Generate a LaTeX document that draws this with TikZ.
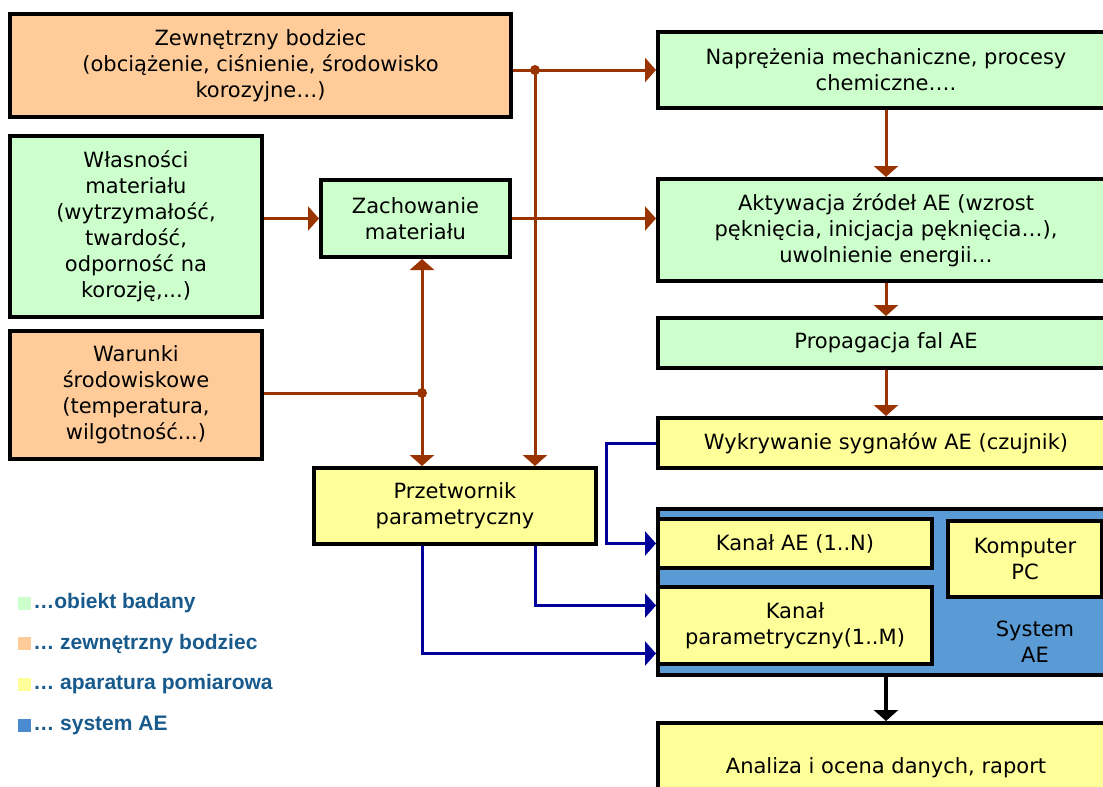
\documentclass[tikz,border=0pt]{standalone}
\usepackage{fontspec}
\setmainfont{DejaVu Sans}
\newfontfamily\legfont{Liberation Sans}
\usetikzlibrary{arrows.meta}
\usetikzlibrary{calc}

\definecolor{greenb}{HTML}{CCFFCC}
\definecolor{orangeb}{HTML}{FFCC99}
\definecolor{yellowb}{HTML}{FFFF99}
\definecolor{blueb}{HTML}{5B9BD5}
\definecolor{bluesq}{HTML}{4A8AD0}
\definecolor{brownc}{HTML}{993300}
\definecolor{navyc}{HTML}{000099}
\definecolor{legc}{RGB}{25,90,140}

\begin{document}
\begin{tikzpicture}[x=1pt,y=-1pt,>={Triangle[width=24pt,length=11pt]},
        box/.style={rectangle,draw=black,line width=4pt,align=center,inner sep=2pt,font=\fontsize{21}{26}\selectfont},
        brline/.style={draw=brownc,line width=3pt},
        brarrow/.style={brline,->},
        blarrow/.style={draw=navyc,line width=3pt,->},
        legsq/.style={rectangle,minimum size=13pt,inner sep=0pt},
        legtext/.style={anchor=west,text=legc,inner sep=2pt,font=\legfont\bfseries\fontsize{21}{24}\selectfont}]

        \useasboundingbox (0,0) rectangle (1103,787);
        \clip (0,0) rectangle (1103,787);

        \node [box,fill=orangeb,minimum width=501pt,minimum height=103pt] (zewn) at (260.5,65.5)
              {Zewnętrzny bodziec\\(obciążenie, ciśnienie, środowisko\\korozyjne…)};
        \node [box,fill=greenb,minimum width=252pt,minimum height=181pt]  (wlasn) at (136,226.5)
              {Własności\\materiału\\(wytrzymałość,\\twardość,\\odporność na\\korozję,...)};
        \node [box,fill=orangeb,minimum width=252pt,minimum height=128pt] (warunki) [below of=wlasn, node distance=168.5pt]
              {Warunki\\środowiskowe\\(temperatura,\\wilgotność...)};
        \node [box,fill=greenb,minimum width=189pt,minimum height=77pt]   (zach) at (415.5,218.5) {Zachowanie\\materiału};
        \node [box,fill=yellowb,minimum width=282pt,minimum height=76pt]  (przetw) at (455,506) {Przetwornik\\parametryczny};

        \node [box,fill=greenb,minimum width=456pt,minimum height=76pt]   (nap) at (886,70)
              {Naprężenia mechaniczne, procesy\\chemiczne….};
        \node [box,fill=greenb,minimum width=456pt,minimum height=102pt]  (aktyw) [below of=nap, node distance=160pt]
              {Aktywacja źródeł AE (wzrost\\pęknięcia, inicjacja pęknięcia…),\\uwolnienie energii…};
        \node [box,fill=greenb,minimum width=456pt,minimum height=50pt]   (prop) [below of=aktyw, node distance=113pt] {Propagacja fal AE};
        \node [box,fill=yellowb,minimum width=456pt,minimum height=50pt]  (wykr) [below of=prop, node distance=100pt] {Wykrywanie sygnałów AE (czujnik)};
        \node [box,fill=blueb,minimum width=456pt,minimum height=166pt]   (system) [below of=wykr, node distance=149pt] {};
        \node [box,fill=yellowb,minimum width=274pt,minimum height=49pt]  (kanalAE) at (795,543.5) {Kanał AE (1..N)};
        \node [box,fill=yellowb,minimum width=274pt,minimum height=77pt]  (kanalPar) [below of=kanalAE, node distance=82pt]
              {Kanał\\parametryczny(1..M)};
        \node [box,fill=yellowb,minimum width=154pt,minimum height=76pt]  (komp) at (1025,559) {Komputer\\PC};
        \node [box,draw=none] (syslbl) at (1035,642) {System\\AE};
        \node [box,fill=yellowb,minimum width=456pt,minimum height=90pt]  (analiza) [below of=system, node distance=176pt]
              {Analiza i ocena danych, raport};

        \coordinate (j1) at (535,70);
        \coordinate (j2) at (422,393);

        \draw [brarrow] (zewn.east |- nap.west) -- (nap.west);
        \draw [brarrow] (j1) -- (j1 |- przetw.north);
        \draw [brarrow] (wlasn.east |- zach.west) -- (zach.west);
        \draw [brarrow] (zach.east) -- (zach.east -| aktyw.west);
        \draw [brline]  (warunki.east |- j2) -- (j2);
        \draw [brarrow] (j2) -- (j2 |- zach.south);
        \draw [brarrow] (j2) -- (j2 |- przetw.north);
        \fill [brownc] (j1) circle (5pt);
        \fill [brownc] (j2) circle (5pt);

        \draw [brarrow] (nap.south) -- (aktyw.north);
        \draw [brarrow] (aktyw.south) -- (prop.north);
        \draw [brarrow] (prop.south) -- (wykr.north);

        \draw [blarrow] (wykr.west) -- ++(-50pt,0) |- (kanalAE.west);
        \draw [blarrow] (j1 |- przetw.south) |- ([yshift=20pt]kanalPar.west);
        \draw [blarrow] (j2 |- przetw.south) |- ([yshift=-28pt]kanalPar.west);

        \draw [->,line width=3.5pt] (system.south) -- (analiza.north);

        \node [legsq,fill=greenb]  (sq1) at (24.5,603) {};
        \node [legsq,fill=orangeb] (sq2) [below of=sq1, node distance=40.7pt] {};
        \node [legsq,fill=yellowb] (sq3) [below of=sq2, node distance=40.7pt] {};
        \node [legsq,fill=bluesq]  (sq4) [below of=sq3, node distance=40.7pt] {};
        \node [legtext] (leg1) at (sq1.east) {…obiekt badany};
        \node [legtext] (leg2) at (sq2.east) {… zewnętrzny bodziec};
        \node [legtext] (leg3) at (sq3.east) {… aparatura pomiarowa};
        \node [legtext] (leg4) at (sq4.east) {… system AE};
\end{tikzpicture}
\end{document}
